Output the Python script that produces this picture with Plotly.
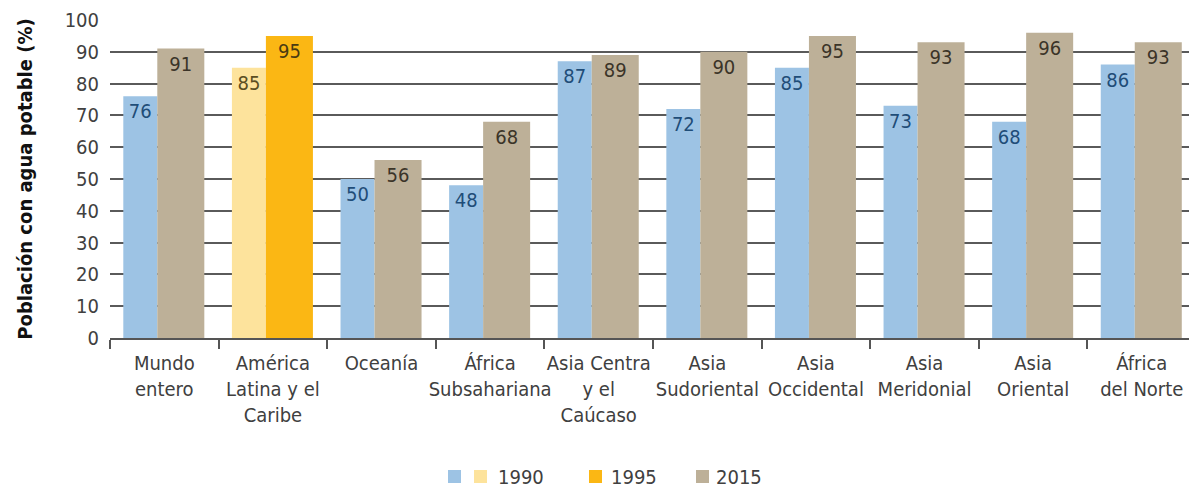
import plotly.graph_objects as go

categories = ["Mundo<br>entero", "América<br>Latina y el<br>Caribe", "Oceanía",
              "África<br>Subsahariana", "Asia Centra<br>y el<br>Caúcaso",
              "Asia<br>Sudoriental", "Asia<br>Occidental", "Asia<br>Meridonial",
              "Asia<br>Oriental", "África<br>del Norte"]
v1990_blue = [76, None, 50, 48, 87, 72, 85, 73, 68, 86]
v1990_yellow = [None, 85, None, None, None, None, None, None, None, None]
v1995 = [None, 95, None, None, None, None, None, None, None, None]
v2015 = [91, None, 56, 68, 89, 90, 95, 93, 96, 93]
y_ticks = [0, 10, 20, 30, 40, 50, 60, 70, 80, 90, 100]
legend_labels = ["1990", "1995", "2015"]

FONT = "DejaVu Sans Condensed, DejaVu Sans, sans-serif"
C_BLUE = "#9dc3e4"
C_YEL = "#fde39c"
C_GOLD = "#fbb714"
C_TAN = "#bdb098"

def lbl(vals):
    return [("" if v is None else str(v)) for v in vals]

fig = go.Figure()
front_off, front_w = -0.0645, 0.433
back_off, back_w = -0.3775, 0.313

fig.add_trace(go.Bar(x=categories, y=v1990_blue, offset=back_off, width=back_w,
                     marker=dict(color=C_BLUE, line=dict(width=0)),
                     text=lbl(v1990_blue), textposition="inside", insidetextanchor="end",
                     textfont=dict(family=FONT, size=20, color="#1f4d78"),
                     textangle=0, name="1990", showlegend=False))
fig.add_trace(go.Bar(x=categories, y=v1990_yellow, offset=back_off, width=back_w,
                     marker=dict(color=C_YEL, line=dict(width=0)),
                     text=lbl(v1990_yellow), textposition="inside", insidetextanchor="end",
                     textfont=dict(family=FONT, size=20, color="#5a4e22"),
                     textangle=0, name="1990", showlegend=False))
fig.add_trace(go.Bar(x=categories, y=v1995, offset=front_off, width=front_w,
                     marker=dict(color=C_GOLD, line=dict(width=0)),
                     text=lbl(v1995), textposition="inside", insidetextanchor="end",
                     textfont=dict(family=FONT, size=20, color="#4a3a12"),
                     textangle=0, name="1995", showlegend=False))
fig.add_trace(go.Bar(x=categories, y=v2015, offset=front_off, width=front_w,
                     marker=dict(color=C_TAN, line=dict(width=0)),
                     text=lbl(v2015), textposition="inside", insidetextanchor="end",
                     textfont=dict(family=FONT, size=20, color="#3b3428"),
                     textangle=0, name="2015", showlegend=False))

# plot-area geometry (pixels) for manual legend
L, T, W, H = 110, 20, 1189, 488
PW, PH = W - L, 338 - T
def px(x): return (x - L) / PW
def py(y): return (338 - y) / PH

shapes = []
annotations = []
sq = [(448, C_BLUE), (474, C_YEL), (589, C_GOLD), (696, C_TAN)]
for x0, c in sq:
    shapes.append(dict(type="rect", xref="paper", yref="paper",
                       x0=px(x0), x1=px(x0 + 13), y0=py(483), y1=py(470),
                       fillcolor=c, line=dict(width=0)))
for x0, t in zip([496, 609, 714], legend_labels):
    annotations.append(dict(text=t, xref="paper", yref="paper", x=px(x0), y=py(476.5),
                            xanchor="left", yanchor="middle", showarrow=False,
                            font=dict(family=FONT, size=20, color="#404040")))

fig.update_layout(
    width=W, height=H, barmode="overlay",
    margin=dict(l=L, r=0, t=T, b=H - 338, autoexpand=False),
    paper_bgcolor="white", plot_bgcolor="white",
    font=dict(family=FONT, size=20, color="#404040"),
    shapes=shapes, annotations=annotations, showlegend=False,
    uniformtext=dict(mode=False),
)
fig.update_xaxes(type="category", range=[-0.5, 9.435], showgrid=False,
                 showline=True, linecolor="#555555", linewidth=2,
                 ticks="outside", tickson="boundaries", ticklen=9, tickwidth=1.5,
                 tickcolor="#555555", tickangle=0, ticklabelstandoff=6,
                 tickfont=dict(family=FONT, size=20, color="#404040"),
                 automargin=False)
fig.update_yaxes(range=[0, 100], tickvals=y_ticks, showgrid=True, gridcolor="#5a5a5a",
                 gridwidth=1.7, zeroline=False, showline=False, ticks="",
                 ticklabelstandoff=10,
                 tickfont=dict(family=FONT, size=20, color="#404040"),
                 title=dict(text="<b>Población con agua potable (%)</b>", standoff=26,
                            font=dict(family=FONT, size=20, color="#111111")),
                 automargin=False)

fig.write_html("out.html", config={"displayModeBar": False},
               post_script="document.body.style.margin='0';")
